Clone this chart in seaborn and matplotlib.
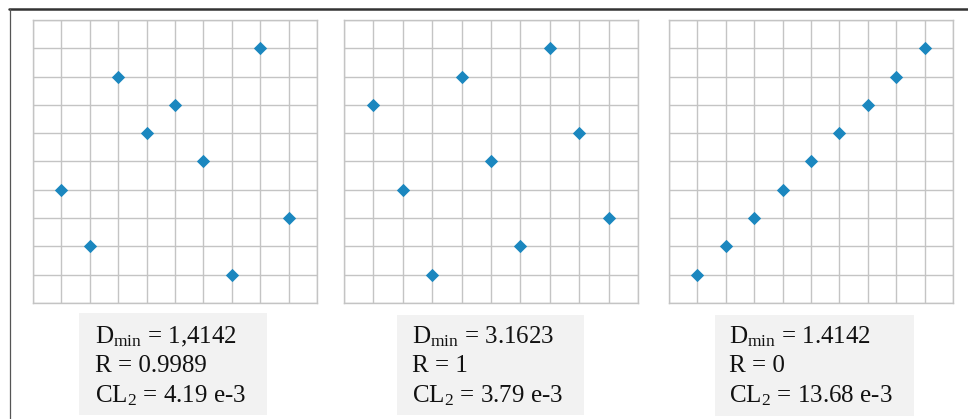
import matplotlib
matplotlib.use("Agg")
import matplotlib.pyplot as plt
import seaborn as sns
import pandas as pd
from matplotlib.patches import Rectangle
from matplotlib.lines import Line2D

# design points (column index, row index) on a 10x10 grid
levels = [1, 2, 3, 4, 5, 6, 7, 8, 9]
design_a = [4, 2, 8, 6, 7, 5, 1, 9, 3]
design_b = [7, 4, 1, 8, 5, 2, 9, 6, 3]
design_c = [1, 2, 3, 4, 5, 6, 7, 8, 9]

dmin_labels = ["1,4142", "3.1623", "1.4142"]
r_labels = ["0.9989", "1", "0"]
cl2_labels = ["4.19", "3.79", "13.68"]

W, H = 968, 419
sns.set_style("white")
plt.rcParams["font.family"] = ["Liberation Serif", "DejaVu Serif"]
plt.rcParams["mathtext.fontset"] = "custom"
plt.rcParams["mathtext.rm"] = "Liberation Serif"
plt.rcParams["mathtext.it"] = "Liberation Serif:italic"

fig = plt.figure(figsize=(W / 100, H / 100), dpi=100)
fig.patch.set_facecolor("white")


def px_box(x0, y0, x1, y1):
    return [x0 / W, 1 - y1 / H, (x1 - x0) / W, (y1 - y0) / H]


panels = [(33, 317), (344, 638), (669, 953)]
boxes = [(79, 313, 267, 415), (397, 315, 584, 415), (715, 315, 914, 416)]
text_x = [95, 412, 729]

for i, ys in enumerate([design_a, design_b, design_c]):
    x0, x1 = panels[i]
    ax = fig.add_axes(px_box(x0, 20, x1, 303))
    df = pd.DataFrame({"x": levels, "y": ys})
    sns.scatterplot(data=df, x="x", y="y", ax=ax, marker="D", s=46,
                    color="#1b87bf", linewidth=0, zorder=3)
    ax.set_xlim(0, 10)
    ax.set_ylim(0, 10)
    ax.set_xticks(range(11))
    ax.set_yticks(range(11))
    ax.set_xticklabels([])
    ax.set_yticklabels([])
    ax.tick_params(length=0)
    ax.set_xlabel("")
    ax.set_ylabel("")
    ax.grid(True, color="#c4c4c4", linewidth=1.0)
    ax.set_axisbelow(True)
    for sp in ax.spines.values():
        sp.set_color("#c4c4c4")
        sp.set_linewidth(1.0)

    bx0, by0, bx1, by1 = boxes[i]
    fig.patches.append(Rectangle((bx0 / W, 1 - by1 / H), (bx1 - bx0) / W,
                                 (by1 - by0) / H, transform=fig.transFigure,
                                 facecolor="#f2f2f2", edgecolor="none", zorder=0))
    tx = text_x[i] / W
    lines = [r"D$_{\mathrm{min}}$ = " + dmin_labels[i],
             "R = " + r_labels[i],
             r"CL$_{\mathrm{2}}$ = " + cl2_labels[i] + " e-3"]
    for j, (s, base) in enumerate(zip(lines, [343, 372, 402])):
        fig.text(tx, 1 - base / H, s, fontsize=18, color="#111111",
                 ha="left", va="baseline")

# page border lines
fig.add_artist(Line2D([9 / W, 1], [1 - 9.5 / H, 1 - 9.5 / H],
                      transform=fig.transFigure, color="#333333", linewidth=1.8))
fig.add_artist(Line2D([9.5 / W, 9.5 / W], [0, 1 - 9.5 / H],
                      transform=fig.transFigure, color="#555555", linewidth=0.9))

fig.savefig("out.png", dpi=100)
